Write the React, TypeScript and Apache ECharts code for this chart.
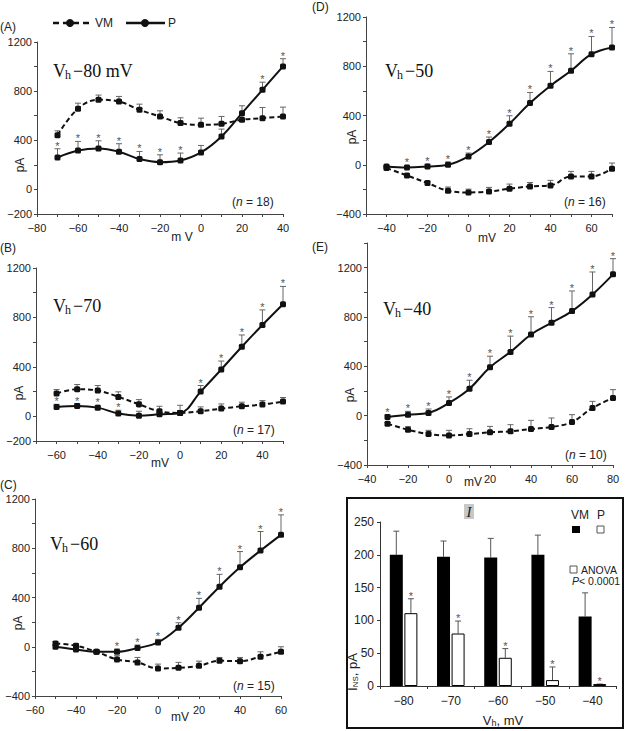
import React, { useEffect, useRef } from "react";
import * as echarts from "echarts";

// ---------- Panel A (Vh -80 mV) ----------
const xA = [-70, -60, -50, -40, -30, -20, -10, 0, 10, 20, 30, 40];
const vmA = [440, 657, 730, 716, 648, 594, 540, 526, 534, 567, 580, 594];
const vmErrA = [37, 45, 38, 41, 46, 46, 43, 54, 60, 46, 87, 76];
const pA = [260, 317, 334, 307, 247, 222, 236, 301, 431, 621, 811, 1001];
const pErrA = [71, 74, 62, 65, 62, 60, 60, 57, 60, 60, 62, 63];
const starsA = [-70, -60, -50, -40, -30, -20, -10, 30, 40];

// ---------- Panel B (Vh -70) ----------
const xB = [-60, -50, -40, -30, -20, -10, 0, 10, 20, 30, 40, 50];
const vmB = [184, 219, 208, 157, 97, 41, 27, 41, 62, 81, 95, 119];
const vmErrB = [33, 38, 41, 41, 38, 40, 62, 35, 38, 33, 32, 33];
const pB = [76, 84, 70, 22, 5, 16, 27, 200, 379, 563, 739, 907];
const pErrB = [21, 19, 19, 27, 36, 15, 20, 49, 68, 95, 122, 144];
const starsB = [-60, -50, -40, -30, -20, 10, 20, 30, 40, 50];

// ---------- Panel C (Vh -60) ----------
const xC = [-50, -40, -30, -20, -10, 0, 10, 20, 30, 40, 50, 60];
const vmC = [27, 8, -41, -103, -127, -176, -171, -155, -114, -117, -81, -41];
const vmErrC = [15, 15, 15, 30, 40, 35, 44, 38, 27, 30, 40, 41];
const pC = [0, -22, -41, -41, -11, 35, 155, 317, 488, 645, 781, 909];
const pErrC = [15, 15, 15, 22, 25, 25, 40, 76, 100, 128, 155, 162];
const starsC = [-20, -10, 0, 10, 20, 30, 40, 50, 60];

// ---------- Panel D (Vh -50) ----------
const xD = [-40, -30, -20, -10, 0, 10, 20, 30, 40, 50, 60, 70];
const vmD = [-27, -87, -149, -211, -225, -217, -195, -176, -168, -95, -95, -32];
const vmErrD = [10, 10, 15, 30, 27, 33, 38, 32, 41, 41, 41, 46];
const pD = [-14, -22, -14, 0, 68, 184, 333, 501, 642, 763, 898, 953];
const pErrD = [10, 17, 19, 22, 27, 41, 65, 86, 116, 138, 144, 162];
const starsD = [-30, -20, -10, 0, 10, 20, 30, 40, 50, 60, 70];

// ---------- Panel E (Vh -40) ----------
const xE = [-30, -20, -10, 0, 10, 20, 30, 40, 50, 60, 70, 80];
const vmE = [-65, -114, -149, -160, -149, -135, -127, -108, -92, -51, 62, 144];
const vmErrE = [10, 25, 30, 41, 43, 48, 54, 70, 73, 59, 54, 67];
const pE = [-11, 8, 22, 103, 219, 393, 517, 658, 753, 848, 983, 1146];
const pErrE = [19, 27, 32, 49, 68, 89, 128, 144, 123, 163, 182, 127];
const starsE = [-30, -20, -10, 0, 10, 20, 30, 40, 50, 60, 70, 80];

// ---------- Panel I (bar chart) ----------
const barCats = ["-80", "-70", "-60", "-50", "-40"];
const barVM = [200, 197, 196, 200, 106];
const barVMErr = [36, 24, 29, 30, 36];
const barP = [111, 80, 43, 9, 3];
const barPErr = [22, 19, 14, 20, 0];

const SANS = "'Liberation Sans', Arial, sans-serif";
const SERIF = "'Liberation Serif', 'Times New Roman', serif";
const minus = (s: string) => s.replace(/-/g, "\u2212");

type Panel = {
  xs: number[]; vm: number[]; vmErr: number[]; p: number[]; pErr: number[]; stars: number[];
  grid: { left: number; top: number; width: number; height: number };
  xMin: number; xMax: number; yMin: number; yMax: number;
};

const panels: Panel[] = [
  { xs: xA, vm: vmA, vmErr: vmErrA, p: pA, pErr: pErrA, stars: starsA,
    grid: { left: 37, top: 42, width: 246, height: 172 }, xMin: -80, xMax: 40, yMin: -200, yMax: 1200 },
  { xs: xB, vm: vmB, vmErr: vmErrB, p: pB, pErr: pErrB, stars: starsB,
    grid: { left: 36, top: 268, width: 247, height: 173 }, xMin: -70, xMax: 50, yMin: -200, yMax: 1200 },
  { xs: xC, vm: vmC, vmErr: vmErrC, p: pC, pErr: pErrC, stars: starsC,
    grid: { left: 35, top: 499, width: 246, height: 197 }, xMin: -60, xMax: 60, yMin: -400, yMax: 1200 },
  { xs: xD, vm: vmD, vmErr: vmErrD, p: pD, pErr: pErrD, stars: starsD,
    grid: { left: 366, top: 17, width: 246, height: 197 }, xMin: -50, xMax: 70, yMin: -400, yMax: 1200 },
  { xs: xE, vm: vmE, vmErr: vmErrE, p: pE, pErr: pErrE, stars: starsE,
    grid: { left: 367, top: 243, width: 246, height: 222 }, xMin: -40, xMax: 80, yMin: -400, yMax: 1400 },
];

const ERR_COLOR = "#666";
const STAR_COLOR = "#555";

function errRender(offset: number, color: string) {
  return (params: any, api: any) => {
    const x = api.value(0);
    const p0 = api.coord([x, api.value(1)]);
    const p1 = api.coord([x, api.value(2)]);
    const cx = p0[0] + offset;
    const children: any[] = [
      { type: "line", shape: { x1: cx, y1: p0[1], x2: cx, y2: p1[1] }, style: { stroke: color, lineWidth: 1, fill: null } },
      { type: "line", shape: { x1: cx - 3, y1: p1[1], x2: cx + 3, y2: p1[1] }, style: { stroke: color, lineWidth: 1, fill: null } },
    ];
    if (api.value(3)) {
      children.push({
        type: "text", x: cx, y: p1[1] - 3,
        style: { text: "*", fill: STAR_COLOR, stroke: null, fontSize: 11, fontFamily: SANS, align: "center", verticalAlign: "middle" },
      });
    }
    return { type: "group", children };
  };
}

function txt(text: string, x: number, y: number, extra: any = {}, styleExtra: any = {}) {
  return {
    type: "text", x, y, ...extra,
    style: { text, fill: "#222", fontSize: 12, fontFamily: SANS, align: "left", verticalAlign: "middle", ...styleExtra },
  };
}

export default function App() {
  const ref = useRef<HTMLDivElement>(null);
  useEffect(() => {
    document.body.style.margin = "0";
    const chart = echarts.init(ref.current!, undefined, { renderer: "svg" });

    const grids: any[] = panels.map((p) => ({ ...p.grid, containLabel: false }));
    grids.push({ left: 380, top: 522, width: 236, height: 164, containLabel: false });

    const axisLineStyle = { color: "#444", width: 1 };
    const xAxes: any[] = panels.map((p, i) => ({
      type: "value", gridIndex: i, min: p.xMin, max: p.xMax, interval: 10,
      axisLine: { show: true, onZero: false, lineStyle: axisLineStyle },
      axisTick: { show: true, length: 3, lineStyle: axisLineStyle },
      splitLine: { show: false },
      axisLabel: {
        fontSize: 11, color: "#222", margin: 8, fontFamily: SANS, showMinLabel: true, showMaxLabel: true,
        formatter: (v: number) => (v % 20 === 0 ? minus(String(v)) : ""),
      },
    }));
    const yAxes: any[] = panels.map((p, i) => ({
      type: "value", gridIndex: i, min: p.yMin, max: p.yMax, interval: 200,
      axisLine: { show: true, onZero: false, lineStyle: axisLineStyle },
      axisTick: { show: true, length: 3, lineStyle: axisLineStyle },
      splitLine: { show: false },
      axisLabel: {
        fontSize: 11, color: "#222", margin: 5, fontFamily: SANS, showMinLabel: true, showMaxLabel: true,
        formatter: (v: number) => (v % 400 === 0 || v === p.yMin ? minus(String(v)) : ""),
      },
    }));
    xAxes.push({
      type: "category", gridIndex: 5, data: barCats,
      axisLine: { show: true, onZero: false, lineStyle: { color: "#333", width: 1 } },
      axisTick: { show: true, length: 3, lineStyle: { color: "#333" } },
      axisLabel: { fontSize: 12, color: "#222", margin: 9, fontFamily: SANS, formatter: (v: string) => minus(v) },
    });
    yAxes.push({
      type: "value", gridIndex: 5, min: 0, max: 250, interval: 50,
      axisLine: { show: true, lineStyle: { color: "#333", width: 1 } },
      axisTick: { show: true, length: 3, lineStyle: { color: "#333" } },
      splitLine: { show: false },
      axisLabel: { fontSize: 12, color: "#222", margin: 6, fontFamily: SANS },
    });

    const series: any[] = [];
    panels.forEach((p, i) => {
      series.push({
        type: "custom", xAxisIndex: i, yAxisIndex: i, z: 1,
        itemStyle: { color: ERR_COLOR },
        encode: { x: 0, y: [1, 2] },
        data: p.xs.map((x, k) => [x, p.vm[k], p.vm[k] + p.vmErr[k], 0]),
        renderItem: errRender(0, ERR_COLOR),
      });
      series.push({
        type: "custom", xAxisIndex: i, yAxisIndex: i, z: 1,
        itemStyle: { color: STAR_COLOR },
        encode: { x: 0, y: [1, 2] },
        data: p.xs.map((x, k) => [x, p.p[k], p.p[k] + p.pErr[k], p.stars.includes(x) ? 1 : 0]),
        renderItem: errRender(0, ERR_COLOR),
      });
      series.push({
        type: "line", xAxisIndex: i, yAxisIndex: i, z: 3, smooth: 0.4,
        data: p.xs.map((x, k) => [x, p.vm[k]]),
        symbol: "roundRect", symbolSize: 6,
        itemStyle: { color: "#111" },
        lineStyle: { color: "#111", width: 2, type: [5, 3] },
      });
      series.push({
        type: "line", xAxisIndex: i, yAxisIndex: i, z: 3, smooth: 0.4,
        data: p.xs.map((x, k) => [x, p.p[k]]),
        symbol: "roundRect", symbolSize: 6,
        itemStyle: { color: "#111" },
        lineStyle: { color: "#111", width: 2 },
      });
    });

    // bar chart
    series.push({
      type: "bar", xAxisIndex: 5, yAxisIndex: 5, data: barVM, barWidth: 13, barGap: "12%",
      itemStyle: { color: "#000" }, z: 3,
    });
    series.push({
      type: "bar", xAxisIndex: 5, yAxisIndex: 5, data: barP, barWidth: 13, barGap: "12%",
      itemStyle: { color: "#fff", borderColor: "#000", borderWidth: 1 }, z: 3,
    });
    series.push({
      type: "custom", xAxisIndex: 5, yAxisIndex: 5, z: 2,
      itemStyle: { color: "#555" },
      encode: { x: 0, y: [1, 2] },
      data: barVM.map((v, k) => [k, v, v + barVMErr[k], 0]),
      renderItem: errRender(-7.3, "#555"),
    });
    series.push({
      type: "custom", xAxisIndex: 5, yAxisIndex: 5, z: 2,
      itemStyle: { color: "#555" },
      encode: { x: 0, y: [1, 2] },
      data: barP.map((v, k) => [k, v, v + barPErr[k], 1]),
      renderItem: errRender(7.3, "#555"),
    });

    const nRich = { i: { fontStyle: "italic", fontSize: 12, fontFamily: SANS, fill: "#222" } };
    const graphic: any[] = [
      // panel letters
      txt("(A)", 0, 27), txt("(B)", 0, 248), txt("(C)", 0, 485),
      txt("(D)", 312, 7), txt("(E)", 312, 247),
      // legend
      { type: "line", shape: { x1: 53, y1: 23, x2: 89, y2: 23 }, style: { stroke: "#111", lineWidth: 2.5, lineDash: [6, 4] } },
      { type: "circle", shape: { cx: 70, cy: 23, r: 4 }, style: { fill: "#111" } },
      txt("VM", 95, 23),
      { type: "line", shape: { x1: 126, y1: 23, x2: 165, y2: 23 }, style: { stroke: "#111", lineWidth: 2.5 } },
      { type: "circle", shape: { cx: 145, cy: 23, r: 4 }, style: { fill: "#111" } },
      txt("P", 168, 23),
      // axis names
      txt("m V", 182, 237, {}, { align: "center" }),
      txt("mV", 160, 463, {}, { align: "center" }),
      txt("mV", 180, 717, {}, { align: "center" }),
      txt("mV", 487, 238, {}, { align: "center" }),
      txt("mV", 473, 482, {}, { align: "center" }),
      txt("pA", 20, 165, { rotation: Math.PI / 2 }, { align: "center" }),
      txt("pA", 19, 393, { rotation: Math.PI / 2 }, { align: "center" }),
      txt("pA", 18, 623, { rotation: Math.PI / 2 }, { align: "center" }),
      txt("pA", 352, 137, { rotation: Math.PI / 2 }, { align: "center" }),
      txt("pA", 350, 395, { rotation: Math.PI / 2 }, { align: "center" }),
      // n labels
      txt("({i|n} = 18)", 232, 202, {}, { rich: nRich }),
      txt("({i|n} = 17)", 233, 430, {}, { rich: nRich }),
      txt("({i|n} = 15)", 233, 686, {}, { rich: nRich }),
      txt("({i|n} = 16)", 564, 202, {}, { rich: nRich }),
      txt("({i|n} = 10)", 565, 455, {}, { rich: nRich }),
    ];

    // Vh titles
    const vh = [
      { x: 53, y: 71, rest: "\u221280 mV" },
      { x: 53, y: 306, rest: "\u221270" },
      { x: 50, y: 544, rest: "\u221260" },
      { x: 385, y: 71, rest: "\u221250" },
      { x: 383, y: 309, rest: "\u221240" },
    ];
    vh.forEach((t) => {
      graphic.push(txt("V", t.x, t.y, {}, { fontSize: 18, fontFamily: SERIF, fill: "#111" }));
      graphic.push(txt("h", t.x + 12, t.y + 4, {}, { fontSize: 12, fontFamily: SERIF, fill: "#111" }));
      graphic.push(txt(t.rest, t.x + 20, t.y, {}, { fontSize: 18, fontFamily: SERIF, fill: "#111" }));
    });

    // bar panel box & annotations
    graphic.push({
      type: "rect", shape: { x: 347, y: 498, width: 276, height: 230 },
      style: { fill: "none", stroke: "#111", lineWidth: 2 }, z: 10,
    });
    graphic.push({ type: "rect", shape: { x: 464, y: 504, width: 10, height: 15 }, style: { fill: "#c8c8c8" } });
    graphic.push(txt("I", 469, 511.5, {}, { fontSize: 15, fontFamily: SERIF, fontStyle: "italic", align: "center", fill: "#222" }));
    graphic.push(txt("VM", 571, 515, {}, { fontSize: 12 }));
    graphic.push(txt("P", 597, 515, {}, { fontSize: 12 }));
    graphic.push({ type: "rect", shape: { x: 572, y: 526, width: 8, height: 7 }, style: { fill: "#000" } });
    graphic.push({ type: "rect", shape: { x: 597, y: 526, width: 7, height: 7 }, style: { fill: "#fff", stroke: "#555", lineWidth: 1 } });
    graphic.push({ type: "rect", shape: { x: 570, y: 566, width: 7, height: 7 }, style: { fill: "#fff", stroke: "#555", lineWidth: 1 } });
    graphic.push(txt("ANOVA", 581, 570, {}, { fontSize: 10.5 }));
    graphic.push(txt("{i|P}< 0.0001", 572, 581, {}, { fontSize: 10.5, rich: { i: { fontStyle: "italic", fontSize: 10.5, fontFamily: SANS, fill: "#222" } } }));
    graphic.push(txt("I{s|NS}, pA", 352, 672, { rotation: Math.PI / 2 }, {
      fontSize: 13, align: "center",
      rich: { s: { fontSize: 8, fontFamily: SANS, fill: "#222", verticalAlign: "bottom", padding: [6, 0, 0, 0] } },
    }));
    graphic.push(txt("V{s|h}, mV", 503, 720, {}, {
      fontSize: 13, align: "center",
      rich: { s: { fontSize: 9, fontFamily: SANS, fill: "#222", padding: [5, 0, 0, 0] } },
    }));

    chart.setOption({
      animation: false,
      backgroundColor: "#fff",
      textStyle: { fontFamily: SANS },
      grid: grids,
      xAxis: xAxes,
      yAxis: yAxes,
      series,
      graphic,
    });
    return () => chart.dispose();
  }, []);

  return <div ref={ref} style={{ position: "absolute", left: 0, top: 0, width: 625, height: 731 }} />;
}
